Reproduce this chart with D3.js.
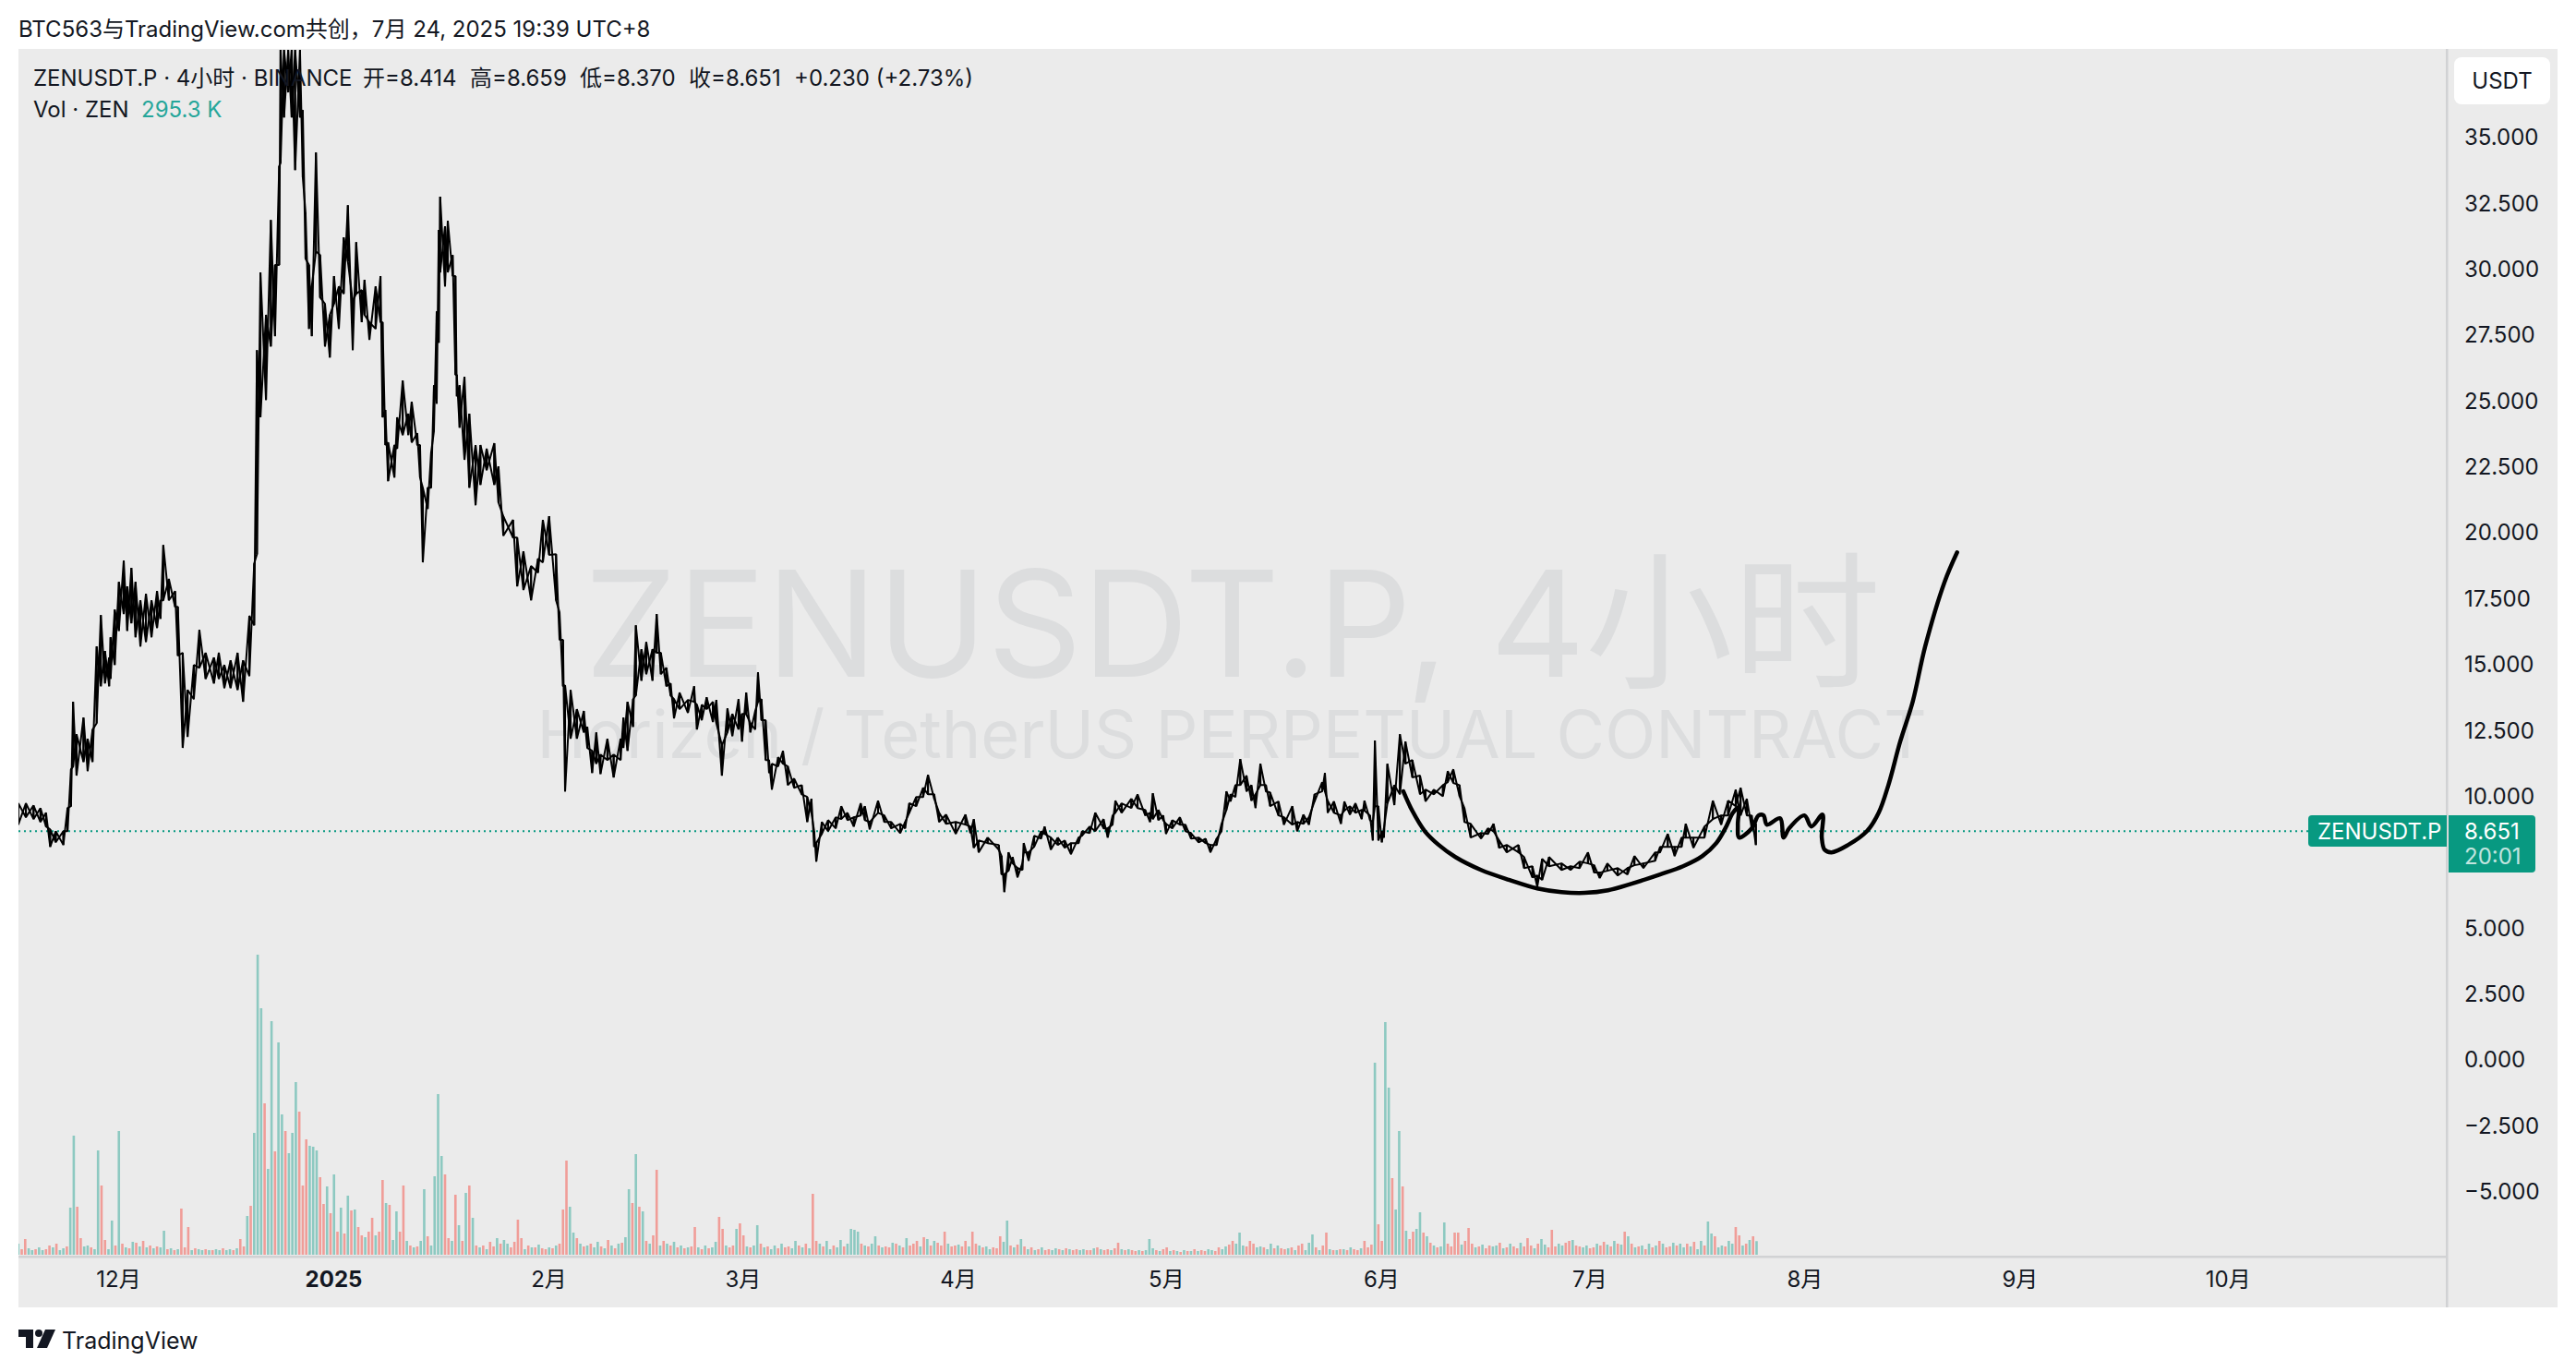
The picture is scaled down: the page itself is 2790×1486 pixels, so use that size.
<!DOCTYPE html>
<html>
<head>
<meta charset="utf-8">
<script src="https://cdn.jsdelivr.net/npm/d3@7"></script>
<style>
  html, body { margin: 0; padding: 0; background: #fff; }
  svg { display: block; }
  text { font-family: Inter, "Noto Sans CJK SC", sans-serif; fill: #131722; }
</style>
</head>
<body>
<div id="chart"></div>
<script>
// Axis labels
const priceTicks = [35, 32.5, 30, 27.5, 25, 22.5, 20, 17.5, 15, 12.5, 10, 5, 2.5, 0, -2.5, -5];
const timeTicks = ["2024-12-01", "2025-01-01", "2025-02-01", "2025-03-01", "2025-04-01", "2025-05-01", "2025-06-01", "2025-07-01", "2025-08-01", "2025-09-01", "2025-10-01"];
const timeLabels = ["12月", "2025", "2月", "3月", "4月", "5月", "6月", "7月", "8月", "9月", "10月"];

// Price path: days since 2024-12-01, high and low at that day
const barDays = [-14.4,-13.3,-12.2,-11.2,-10.4,-9.8,-9,-7.9,-7.3,-6.8,-6.5,-6,-5,-4.4,-3.7,-3.1,-2.5,-1.9,-1.3,-1.1,-0.5,0.1,0.8,1.3,1.9,2.5,3.2,4,4.8,5.6,6.1,6.5,7.3,8.2,8.6,9.3,10,10.9,11.7,12.6,13.8,14.5,15.3,16.2,17.2,18,18.9,19.6,20,20.5,21.3,22,22.6,23.2,23.4,23.9,24.5,25,25.5,26.2,26.6,27,27.5,27.9,28.5,29.1,29.8,30.5,31.1,31.8,32.5,33.1,33.8,34.3,35.1,35.5,36.2,37.1,37.8,38.1,38.5,38.9,39.8,40.2,41,41.8,42.3,43.1,43.5,43.9,44.6,45.1,45.5,45.9,46.2,46.4,47.1,47.5,48.2,48.6,48.8,49.2,49.9,50.6,51.5,52.2,53.1,54.2,54.8,55.5,56.9,57.5,58.4,59.5,60.5,61.2,62.1,63.1,63.6,64.1,64.4,65.2,66.1,67.1,67.6,68.3,68.9,69.5,70.5,71.4,72.4,72.8,73.4,74.2,74.6,75.4,76.1,77,77.6,78.2,79,79.6,80.1,80.9,82.1,83,83.4,84.1,84.8,85.7,86.2,87,87.8,88.5,89.4,89.9,90.5,91.1,91.8,92.2,92.7,93.3,93.8,94.2,95.1,95.8,96.5,97.4,98.5,99.3,99.9,100.3,100.6,101.4,102.3,103.4,104.2,105.1,106,107,107.6,108.3,109.5,110.4,111.4,112.7,113.4,114,115,116,116.7,117.6,118.3,119.3,120.7,122.1,122.8,123.3,124,125.3,126.9,127.3,127.7,128.3,128.9,129.6,130.3,130.5,131.2,132,133,133.5,134.4,135.4,136.4,137.3,138.4,138.9,140,140.8,142,142.6,143.3,143.7,144.6,146,146.9,148,148.7,149.1,149.9,150.6,151,151.9,153,153.8,154.6,155.7,156.7,157.4,158.3,159,159.7,160.3,161,161.7,162.6,163.3,163.9,164.6,165.4,166,167.2,168,169.2,169.9,170.8,171.6,172.4,173.5,173.9,174.3,175.2,176.2,176.7,177.5,178.3,179.2,179.6,180.4,180.8,181.1,181.6,182.1,182.4,182.9,183.9,184.7,185.5,186.5,187.6,188.4,189.6,190.9,191.6,192.4,193.3,194,194.9,196.4,197.4,198.2,199,200.1,201.8,202.6,203.8,204.5,205.2,206.2,208,209.3,210.6,211.8,212.7,213.5,214.6,216.1,217.5,218.5,219.8,221.5,222.2,223.3,224.3,225.3,225.9,227,228.6,229.8,231,232,233.1,233.8,234.7,235.4,236];
const barHigh = [9.71,9.71,9.63,9.53,9.35,8.72,8.65,8.65,9.53,11,13.56,12.33,12.96,12.16,12.5,15.66,16.85,15.49,15.24,16.01,17.06,18.11,18.92,17.94,18.64,18.11,17.41,17.66,17.41,17.76,17.41,19.51,18.22,17.76,17.16,15.42,14.01,14.96,16.29,15.42,15.24,15.42,14.96,15.13,15.42,15.13,16.82,18.81,26.9,29.85,28.24,31.84,30.13,33.88,38.29,38.29,38.29,38.29,38.29,38.29,36.01,32.12,30.13,29.32,34.4,30.51,28.66,28.24,29.71,29.32,31.18,32.4,28.76,31,29.18,29.57,27.96,29.32,29.71,27.96,24.63,23.4,23.3,24.35,25.75,24.49,24.94,23.75,23.3,21.68,21.68,23.02,25.57,28.37,31.46,32.72,31.6,31.81,30.51,29.71,25.96,25.57,25.89,24.49,23.3,23.3,23.16,23.37,22.49,20.6,20.46,19.79,19.27,18.71,18.99,20.46,20.6,19.16,16.96,15.91,14.19,14.01,13.28,13.21,12.61,11.7,12.4,11.56,12.16,11.56,12.16,12.96,13.56,13.66,16.46,15.55,15.83,15.55,16.89,15.42,14.85,14.26,13.66,13.91,13.63,14.15,13.45,13.45,13.73,13.56,13.63,11.91,13.31,13.1,13.66,13.1,13.91,12.75,13.21,14.68,13.66,12.86,11.35,11.21,11.46,11.7,11.11,10.65,10.4,9.95,9.88,8.65,8.2,9,9.07,9.18,9.6,9.35,9.18,9.71,9.6,9,9.81,9.25,9,8.93,9,9.71,9.95,10.3,10.79,10.05,9.35,9.28,9,9.28,8.83,9.11,8.3,8.41,8.13,7.71,7.01,7.85,7.67,7.25,7.43,8.2,7.85,8.48,8.65,8.83,8.41,8.41,8.3,8.2,8.41,8.65,8.83,9.35,9.11,8.76,9.25,9.81,9.71,9.88,10.05,9.46,9.35,10.09,9.46,9.25,8.93,9.07,9.18,8.9,8.58,8.41,8.37,8.13,8.37,8.93,10.16,10.05,10.4,11.39,10.76,10.4,10.05,11.21,10.4,10.12,9.78,9.18,9.6,9,9.28,9.18,10.05,10.51,10.86,9.81,9.78,9.25,9.78,9.6,9.71,9.46,9.81,9.25,9,12.09,9.6,8.65,8.76,11.21,10.4,12.33,12.05,11.35,10.76,10.23,10.23,10.4,10.93,11,10.4,9.53,8.93,8.58,8.76,8.93,8.3,8.13,8.13,7.67,7.32,6.97,7.6,7.67,7.43,7.32,7.5,7.85,7.36,7.08,7.43,7.25,7.25,7.71,7.43,7.85,8.06,8.55,8.06,8.41,8.93,8.41,8.83,9.81,9.25,9.81,10.23,10.3,9.88,9.25,8.93];
const barLow = [8.9,9.18,9.11,9,8.83,8.06,8.23,8.13,8.65,9.6,11.1,10.76,11.28,10.93,11.28,12.75,14.15,14.26,14.15,14.43,14.96,16.25,16.89,16.25,16.54,16.01,15.66,15.83,16.01,16.36,16.71,17.41,17.41,17.16,15.31,11.81,12.23,13.66,14.85,14.43,14.26,14.43,14.08,14.08,14.01,13.56,14.54,16.46,19.16,24.35,25.01,27.04,27.43,30.13,34,35.73,36.68,35.73,33.73,35.73,33.46,30.37,27.71,27.43,30.65,28.9,27.04,26.62,28.66,27.71,29.04,30.27,26.9,29.04,27.96,28.24,27.29,27.71,27.96,24.35,23.3,21.93,22.07,23.16,23.68,23.68,23.4,23.3,22.07,18.85,20.88,21.68,23.82,24.87,27.18,29.85,29.32,29.85,29.71,25.96,25.15,23.96,22.74,21.68,21.02,21.79,22.35,21.79,21.12,19.86,19.79,17.94,17.8,17.41,18.46,18.85,19.13,17.41,15.91,14.15,10.16,12.16,12.16,12.4,11.81,10.86,11.21,10.82,11.35,10.69,11.35,11.81,11.7,12.61,13.8,14.36,14.61,14.36,15.42,14.61,14.15,13.8,12.93,13.28,13.14,13.56,12.51,12.86,13.28,12.79,12.75,10.76,12.4,12.26,12.51,12.05,13.1,12.4,12.51,13.56,12.86,11.35,10.86,10.23,11.11,11.21,10.4,10.3,10.05,9,9.35,8.06,7.5,8.55,8.65,8.76,9.11,9.07,8.83,9.25,9.07,8.72,9.35,9,8.76,8.58,8.76,9.35,9.6,9.95,10.05,9.88,9,8.93,8.55,8.9,8.58,8.02,7.85,8.2,7.95,7.01,6.34,7.15,7.43,6.9,7.18,7.85,7.53,8.06,8.37,8.55,7.95,8.13,8.02,7.78,8.2,8.48,8.58,8.65,8.76,8.41,8.9,9.35,9.35,9.53,9.53,9.25,9,9.11,9.07,9.07,8.55,8.76,8.9,8.65,8.37,8.23,8.2,7.85,8.13,8.65,9.46,9.78,9.95,10.4,10.16,9.81,9.53,10.4,10.16,9.6,9.25,8.9,8.9,8.65,8.93,8.9,9.78,10.16,10.16,9.35,9.35,8.93,9.43,9.28,9.35,9.11,9.43,9.07,8.3,9.6,8.3,8.23,8.41,9.71,9.64,10.05,11.21,10.69,10.05,9.78,10.05,9.98,10.51,10.48,9.98,9,8.41,8.37,8.55,8.65,8.02,7.85,7.85,7.25,6.9,6.55,6.8,7.32,7.18,7.18,7.25,7.43,7.08,6.87,7.15,6.97,7.01,7.36,7.25,7.53,7.85,8.06,7.71,8.06,8.41,8.02,8.41,9.11,8.9,9.25,9.6,9.25,9.25,8.76,8.13];

// Hand drawn forecast line
const sketchDays = [185.2,186.5,188.3,190.3,192.7,196.4,200.5,204.5,208,211.3,214.7,218.1,222.2,225.5,228.3,230.3,231.6,232.7,233.5,233.4,233.6,235.4,236.4,237.1,237.6,239.5,240,240.8,243,244,245.6,245.5,245.9,246.9,249.3,252,253.7,255.1,256.8,258.6,260.4,263.2,265];
const sketchPrices = [10.16,9.42,8.65,8.13,7.67,7.18,6.8,6.48,6.34,6.31,6.41,6.66,7.01,7.32,7.71,8.2,8.76,9.35,9.56,8.9,8.41,8.76,9.25,9.25,8.9,9.14,8.41,8.76,9.25,8.83,9.28,8.41,7.95,7.85,8.13,8.65,9.35,10.4,12.05,13.56,15.66,18.11,19.23];

// Volume in K every 12 hours from the first bar, minus sign means a down candle
const volumeStartDay = -14.4;
const volumeSigned = [
  240,-120,-340,140,100,-120,160,100,-120,-200,160,-240,100,140,-180,1020,2580,-1040,-360,180,
  200,-160,120,2260,-1500,-320,120,740,-200,2680,-240,160,-140,280,-260,180,-300,160,-200,140,
  -180,160,520,-120,140,-100,120,-1000,-160,-600,100,-140,120,100,-120,100,-100,120,100,-140,
  100,120,-100,140,-340,-180,840,-1060,2640,6500,5340,-3280,1860,5060,-2240,4600,3040,-2680,2200,2640,
  3740,-3100,-1500,-2500,2360,2340,2260,-1680,-1100,1480,-900,1740,-500,1020,-460,1280,-960,980,-600,-420,
  380,-500,-800,420,-500,-1620,1120,-1080,320,940,-500,-1500,300,-200,160,-180,300,1420,-400,200,
  1700,3480,2140,-1740,-360,300,-1300,640,-300,1340,-1500,800,-200,160,-200,120,-280,-180,360,-240,
  320,240,-160,-280,-760,-360,120,-200,160,-160,220,-140,-120,160,-140,200,-240,-980,-2040,1040,
  480,-360,240,-180,200,-240,160,280,-180,140,-320,200,-140,240,-260,380,1420,-1120,2180,-1040,
  940,-300,240,-420,-1840,200,-300,240,-200,280,-160,200,-140,160,-180,-600,160,-120,200,-140,
  160,280,-820,-560,200,-160,-200,560,-680,-420,180,-160,200,640,-240,160,-180,120,200,-140,
  240,-160,-180,140,300,-200,160,-240,140,-1320,-300,240,-180,300,120,-200,160,320,-180,240,
  560,540,500,-240,200,-180,240,400,-200,160,-180,-160,260,-240,200,-160,360,-200,-240,-300,
  180,-380,340,-200,300,-260,-200,-500,240,-180,-200,220,-180,-300,180,-500,-240,200,-160,180,
  120,-160,-140,-400,280,740,-200,160,-220,340,-180,120,-160,100,-120,160,-100,-120,100,140,
  -120,100,-140,120,-100,-120,100,120,-100,-100,140,-160,120,-100,-120,100,-140,-260,120,-100,
  120,-100,-80,100,-80,100,340,140,-100,80,-120,-160,80,-100,80,-60,100,-80,80,-120,
  80,-100,-80,120,100,-80,-160,120,180,-220,-300,240,480,200,-180,-300,-240,160,180,-160,
  120,240,-140,200,-140,-120,140,-160,100,-200,-240,100,260,440,-160,100,-200,-480,120,-100,
  100,-120,120,-100,160,-120,-100,140,-300,-160,-220,4160,-660,-300,5040,3620,-1660,980,2680,-1480,
  520,-340,-500,560,920,-480,400,-260,200,-160,180,700,-240,-180,-480,-480,220,-300,-580,-240,
  160,-180,220,-140,-200,180,200,-260,140,-160,240,-180,-140,260,-180,-360,-200,140,-240,340,
  220,-160,-540,-180,240,200,-260,-300,320,-200,-180,160,200,-140,-160,240,-200,-280,220,-180,
  300,-240,220,-500,400,-240,160,-180,200,-120,240,-160,200,-300,240,-160,-180,260,-200,240,
  160,-240,180,-280,120,300,-200,720,460,-400,160,200,-180,300,240,-600,-420,200,-240,320,
  -400,295
];

const lastPrice = 8.651;
const legendItems = ["开=8.414", "高=8.659", "低=8.370", "收=8.651", "+0.230 (+2.73%)"];

const width = 2790, height = 1486;
const panelLeft = 20, panelRight = 2770, panelTop = 53, panelBottom = 1416;
const axisX = 2650, axisY = 1361;
const teal = "#089981";

const dayZero = Date.UTC(2024, 11, 1);
const dayToDate = d => new Date(dayZero + d * 86400000);

const svg = d3.select("#chart").append("svg").attr("width", width).attr("height", height);

// Scales
const x = d3.scaleUtc().domain([dayToDate(-14.37), dayToDate(335.56)]).range([panelLeft, axisX]);
const y = d3.scaleLinear().domain([35, -5]).range([148, 1290]);
const yVol = d3.scaleLinear().domain([0, 6500]).range([1359, 1034]);

svg.append("rect").attr("x", panelLeft).attr("y", panelTop)
   .attr("width", panelRight - panelLeft).attr("height", panelBottom - panelTop).attr("fill", "#ebebeb");

svg.append("clipPath").attr("id", "plot").append("rect")
   .attr("x", panelLeft).attr("y", panelTop).attr("width", axisX - panelLeft).attr("height", axisY - panelTop);

// Watermark
svg.append("text").attr("x", 1335).attr("y", 733).attr("text-anchor", "middle")
   .style("font-size", "160px").style("fill", "#dcddde").text("ZENUSDT.P, 4小时");
svg.append("text").attr("x", 1334).attr("y", 821).attr("text-anchor", "middle")
   .style("font-size", "72px").style("fill", "#dcddde").text("Horizen  /  TetherUS PERPETUAL CONTRACT");

const plot = svg.append("g").attr("clip-path", "url(#plot)");

// Volume bars
plot.append("g").selectAll("rect")
   .data(volumeSigned)
   .enter()
   .append("rect")
   .attr("x", (d, i) => x(dayToDate(volumeStartDay + i / 2)) - 1.3)
   .attr("y", d => yVol(Math.abs(d)))
   .attr("width", 2.6)
   .attr("height", d => yVol(0) - yVol(Math.abs(d)))
   .attr("fill", d => d >= 0 ? "#8dc9c1" : "#f09d98");

// Last price line
plot.append("line")
   .attr("x1", panelLeft).attr("x2", 2500).attr("y1", y(lastPrice)).attr("y2", y(lastPrice))
   .attr("stroke", teal).attr("stroke-width", 2).attr("stroke-dasharray", "2,4");

// Candles, drawn as two crossing sawtooth passes through the highs and lows
const priceLine = d3.line().x(d => x(dayToDate(d[0]))).y(d => y(d[1]));
const upPass = barDays.flatMap((d, i) => [[d, barLow[i]], [d, barHigh[i]]]);
const downPass = barDays.flatMap((d, i) => [[d, barHigh[i]], [d, barLow[i]]]);
plot.selectAll(".candles")
   .data([upPass, downPass])
   .enter()
   .append("path")
   .attr("class", "candles")
   .attr("d", priceLine)
   .attr("fill", "none").attr("stroke", "#000").attr("stroke-width", 2).attr("stroke-linejoin", "bevel");

// Forecast brush stroke
const sketchLine = d3.line().x(d => x(dayToDate(d[0]))).y(d => y(d[1])).curve(d3.curveCatmullRom.alpha(0.5));
plot.append("path").datum(sketchDays.map((d, i) => [d, sketchPrices[i]]))
   .attr("d", sketchLine)
   .attr("fill", "none").attr("stroke", "#000").attr("stroke-width", 4.5)
   .attr("stroke-linecap", "round").attr("stroke-linejoin", "round");

// Axis lines
svg.append("rect").attr("x", axisX - 1).attr("y", panelTop).attr("width", 2.5).attr("height", panelBottom - panelTop).attr("fill", "#d1d2d4");
svg.append("rect").attr("x", panelLeft).attr("y", axisY - 1).attr("width", axisX - panelLeft).attr("height", 2.5).attr("fill", "#d1d2d4");

// Price axis
const yAxis = svg.append("g").attr("transform", "translate(2663,0)")
   .call(d3.axisRight(y).tickValues(priceTicks).tickSize(0).tickPadding(6).tickFormat(d3.format(".3f")));
yAxis.select(".domain").remove();
yAxis.selectAll("text").style("font-size", "24px").style("font-family", "Inter, sans-serif").attr("dy", "0.36em");

// Time axis
const xAxis = svg.append("g").attr("transform", "translate(0,1377)")
   .call(d3.axisBottom(x).tickValues(timeTicks.map(d => new Date(d + "T00:00:00Z"))).tickSize(0).tickPadding(0)
           .tickFormat((d, i) => timeLabels[i]));
xAxis.select(".domain").remove();
xAxis.selectAll("text").style("font-size", "24px").style("font-family", 'Inter, "Noto Sans CJK SC", sans-serif')
     .style("font-weight", (d, i) => timeLabels[i] === "2025" ? 700 : 400).attr("dy", "0.71em").attr("y", 0);

// USDT button
svg.append("rect").attr("x", 2658).attr("y", 62).attr("width", 104).attr("height", 51).attr("rx", 8).attr("fill", "#fff");
svg.append("text").attr("x", 2710).attr("y", 96).attr("text-anchor", "middle").style("font-size", "24px").text("USDT");

// Last price labels
svg.append("path").attr("d", "M2504,883H2650V917H2504a4,4 0 0 1 -4,-4V887a4,4 0 0 1 4,-4Z").attr("fill", teal);
svg.append("text").attr("x", 2510).attr("y", 909).style("font-size", "24px").style("fill", "#fff").text("ZENUSDT.P");
svg.append("path").attr("d", "M2652,883H2742a4,4 0 0 1 4,4V941a4,4 0 0 1 -4,4H2652Z").attr("fill", teal);
svg.append("text").attr("x", 2669).attr("y", 909).style("font-size", "24px").style("fill", "#fff").text(d3.format(".3f")(lastPrice));
svg.append("text").attr("x", 2669).attr("y", 936).style("font-size", "24px").style("fill", "#fff").style("opacity", 0.75).text("20:01");

// Header and legend
svg.append("text").attr("x", 20).attr("y", 40).style("font-size", "24px").text("BTC563与TradingView.com共创，7月 24, 2025 19:39 UTC+8");
svg.append("text").attr("x", 36).attr("y", 93).style("font-size", "24px").text("ZENUSDT.P · 4小时 · BINANCE");
svg.append("g").selectAll("text")
   .data(legendItems)
   .enter()
   .append("text")
   .attr("x", (d, i) => [393, 509, 628, 746, 860][i])
   .attr("y", 93)
   .style("font-size", "24px")
   .text(d => d);
svg.append("text").attr("x", 36).attr("y", 127).style("font-size", "24px").text("Vol · ZEN");
svg.append("text").attr("x", 153).attr("y", 127).style("font-size", "24px").style("fill", "#26a69a").text("295.3 K");

// Footer logo
const logo = svg.append("g").attr("transform", "translate(20,1440)").attr("fill", "#131722");
logo.append("path").attr("d", "M0 0H16V20H8V8H0Z");
logo.append("circle").attr("cx", 22).attr("cy", 4).attr("r", 4);
logo.append("path").attr("d", "M29 0H40L31 20H20Z");
svg.append("text").attr("x", 67).attr("y", 1461).style("font-size", "25px").style("font-weight", 400).text("TradingView");
</script>
</body>
</html>
